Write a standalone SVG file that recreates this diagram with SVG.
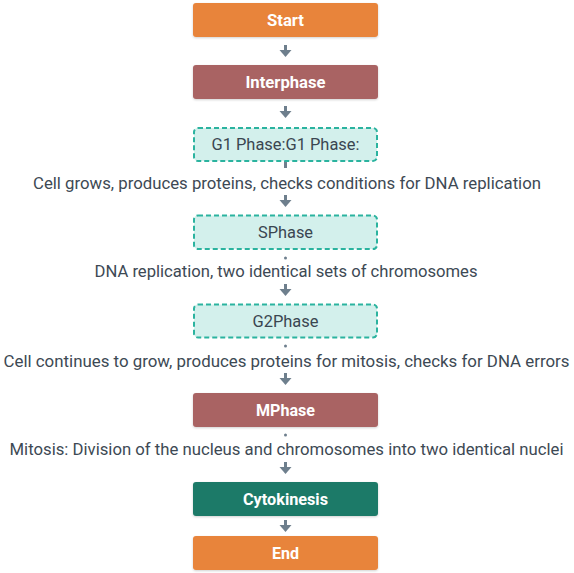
<svg xmlns="http://www.w3.org/2000/svg" width="574" height="573" viewBox="0 0 574 573">
  <defs>
    <filter id="sh" x="-5%" y="-20%" width="110%" height="150%">
      <feDropShadow dx="0" dy="1" stdDeviation="1" flood-color="#000" flood-opacity="0.18"/>
    </filter>
    <g id="arrow">
      <rect x="-1.5" y="0" width="3" height="6"/>
      <polygon points="-6,5 6,5 0,12"/>
    </g>
  </defs>
  <style>
    .box { filter: url(#sh); }
    .orange { fill: #E8843A; }
    .red { fill: #A96363; }
    .green { fill: #1F7A67; }
    .light { fill: #D3F0EC; stroke: #2BB39F; stroke-width: 2; stroke-dasharray: 5 3; }
    .wt { font-family: Roboto, "Liberation Sans", sans-serif; font-size: 16px; font-weight: 700; fill: #ffffff; text-anchor: middle; dominant-baseline: central; }
    .dt { font-family: Roboto, "Liberation Sans", sans-serif; font-size: 16px; font-weight: 400; fill: #3A4651; text-anchor: middle; dominant-baseline: central; }
    .lbl { font-family: Roboto, "Liberation Sans", sans-serif; font-size: 16px; font-weight: 400; fill: #3D4954; text-anchor: middle; dominant-baseline: central; }
    .conn { fill: #6E7F8D; }
  </style>

  <g id="connectors" class="conn">
    <use href="#arrow" x="285.5" y="45"/>
    <use href="#arrow" x="285.5" y="106"/>
    <rect x="284" y="161" width="3" height="7"/>
    <use href="#arrow" x="285.5" y="195"/>
    <circle cx="285.5" cy="258" r="1.5"/>
    <use href="#arrow" x="285.5" y="284"/>
    <circle cx="285.5" cy="346" r="1.5"/>
    <use href="#arrow" x="285.5" y="373"/>
    <circle cx="285.5" cy="435" r="1.5"/>
    <use href="#arrow" x="285.5" y="462"/>
    <use href="#arrow" x="285.5" y="520"/>
  </g>

  <g id="edge-labels">
    <text class="lbl" x="287" y="183" textLength="508" lengthAdjust="spacingAndGlyphs">Cell grows, produces proteins, checks conditions for DNA replication</text>
    <text class="lbl" x="286" y="271.5" textLength="383" lengthAdjust="spacingAndGlyphs">DNA replication, two identical sets of chromosomes</text>
    <text class="lbl" x="286.5" y="361.5" textLength="566" lengthAdjust="spacingAndGlyphs">Cell continues to grow, produces proteins for mitosis, checks for DNA errors</text>
    <text class="lbl" x="286.5" y="449.5" textLength="554" lengthAdjust="spacingAndGlyphs">Mitosis: Division of the nucleus and chromosomes into two identical nuclei</text>
  </g>

  <g id="start">
    <rect class="box orange" x="193" y="3" width="185" height="34" rx="3"/>
    <text class="wt" x="285.5" y="20" textLength="37" lengthAdjust="spacingAndGlyphs">Start</text>
  </g>
  <g id="interphase">
    <rect class="box red" x="193" y="65" width="185" height="34" rx="3"/>
    <text class="wt" x="285.5" y="82" textLength="80" lengthAdjust="spacingAndGlyphs">Interphase</text>
  </g>
  <g id="g1">
    <rect class="light" x="194" y="128" width="183" height="33" rx="4"/>
    <text class="dt" x="285.5" y="144.5" textLength="148" lengthAdjust="spacingAndGlyphs">G1 Phase:G1 Phase:</text>
  </g>
  <g id="sphase">
    <rect class="light" x="194" y="215.5" width="183" height="33.5" rx="4"/>
    <text class="dt" x="285.5" y="232" textLength="55" lengthAdjust="spacingAndGlyphs">SPhase</text>
  </g>
  <g id="g2phase">
    <rect class="light" x="194" y="304.5" width="183" height="33" rx="4"/>
    <text class="dt" x="285.5" y="321" textLength="66" lengthAdjust="spacingAndGlyphs">G2Phase</text>
  </g>
  <g id="mphase">
    <rect class="box red" x="193" y="393" width="185" height="34" rx="3"/>
    <text class="wt" x="285.5" y="410" textLength="59" lengthAdjust="spacingAndGlyphs">MPhase</text>
  </g>
  <g id="cytokinesis">
    <rect class="box green" x="193" y="482" width="185" height="34" rx="3"/>
    <text class="wt" x="285.5" y="499" textLength="85" lengthAdjust="spacingAndGlyphs">Cytokinesis</text>
  </g>
  <g id="end">
    <rect class="box orange" x="193" y="536" width="185" height="34" rx="3"/>
    <text class="wt" x="285.5" y="553" textLength="27" lengthAdjust="spacingAndGlyphs">End</text>
  </g>
</svg>
